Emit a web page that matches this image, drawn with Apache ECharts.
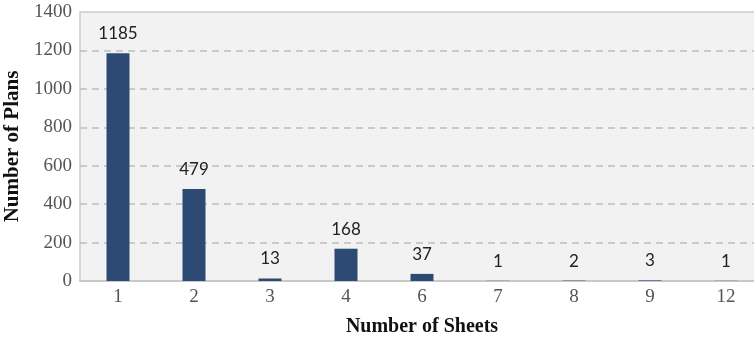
<!DOCTYPE html>
<html>
<head>
<meta charset="utf-8">
<script src="https://cdn.jsdelivr.net/npm/echarts@6/dist/echarts.min.js"></script>
<style>html,body{margin:0;padding:0;background:#fff}#c{width:754px;height:342px}</style>
</head>
<body>
<div id="c"></div>
<script>
const categories = ['1','2','3','4','6','7','8','9','12'];
const plans = [1185, 479, 13, 168, 37, 1, 2, 3, 1];
const yTicks = [0, 200, 400, 600, 800, 1000, 1200, 1400];

const chart = echarts.init(document.getElementById('c'), null, {renderer: 'canvas'});
chart.setOption({
  animation: false,
  grid: {
    left: 80, top: 12, right: -10, bottom: 61,
    outerBoundsMode: 'none',
    containLabel: false,
    show: true, backgroundColor: '#f2f2f2', borderColor: '#cccccc', borderWidth: 1.5
  },
  xAxis: {
    type: 'category',
    data: categories,
    name: 'Number of Sheets',
    nameLocation: 'middle',
    nameGap: 36,
    nameTextStyle: {fontFamily: 'Liberation Serif', fontWeight: 'bold', fontSize: 20, color: '#111'},
    axisLine: {lineStyle: {color: '#c8c8c8', width: 2}},
    axisTick: {show: false},
    axisLabel: {fontFamily: 'Liberation Serif', fontSize: 19, color: '#555', margin: 7}
  },
  yAxis: {
    type: 'value',
    min: yTicks[0], max: yTicks[yTicks.length - 1], interval: 200,
    name: 'Number of Plans',
    nameLocation: 'middle',
    nameGap: 53,
    nameTextStyle: {fontFamily: 'Liberation Serif', fontWeight: 'bold', fontSize: 21, color: '#111'},
    axisLine: {show: false},
    axisTick: {show: false},
    axisLabel: {fontFamily: 'Liberation Serif', fontSize: 19, color: '#555', margin: 8,
      formatter: v => String(v)},
    splitLine: {showMinLine: false, showMaxLine: false,
      lineStyle: {color: '#bdbdbd', type: [7, 5], width: 1.5}}
  },
  series: [{
    type: 'bar',
    data: plans,
    barWidth: 23,
    itemStyle: {color: '#2d4a75'},
    label: {show: true, position: 'top', distance: 11, fontFamily: 'Lato', fontSize: 17, color: '#222'}
  }]
});
</script>
</body>
</html>
